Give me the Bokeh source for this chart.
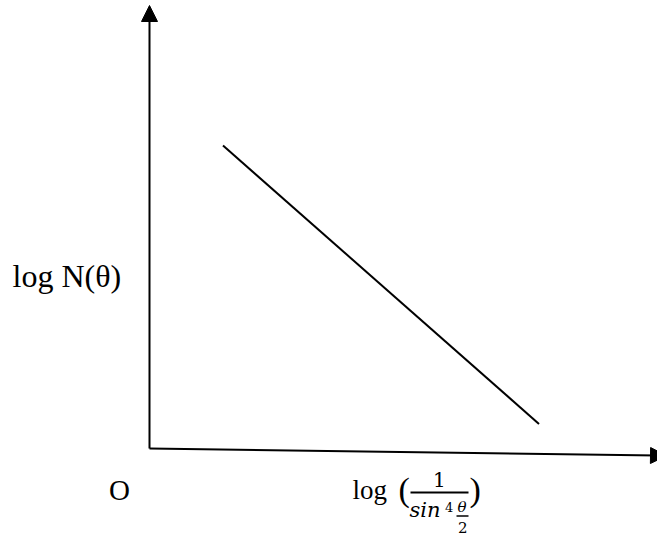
from bokeh.plotting import figure
from bokeh.models import Range1d, Arrow, NormalHead, Label, ColumnDataSource
from bokeh.embed import file_html
from bokeh.resources import INLINE

# ---- data (schematic units) ----
line_x = [1.47, 7.79]
line_y = [6.06, 0.49]
x_axis_end = [10.34, -0.145]
y_axis_end = [0.0, 8.86]
y_label = "log N(θ)"
x_label_log = "log"
x_label_num = "1"
x_label_den = "sin"
x_label_sup = "4"
x_label_theta = "θ"
x_label_two = "2"
origin_label = "O"

# pixel -> data helpers (origin of the axes at pixel (149, 448), 50 px per unit)
def X(px):
    return (px - 149) / 50.0

def Y(py):
    return (448 - py) / 50.0

W, H = 657, 535
p = figure(width=W, height=H, output_backend="svg", toolbar_location=None,
           x_range=Range1d(X(0), X(W)), y_range=Range1d(Y(H), Y(0)),
           x_axis_type=None, y_axis_type=None, min_border=0)
p.grid.visible = False
p.outline_line_color = None
p.background_fill_color = "white"
p.border_fill_color = "white"

# axes with arrow heads
p.add_layout(Arrow(end=NormalHead(size=16, fill_color="black", line_color="black", line_width=1),
                   x_start=0, y_start=0, x_end=x_axis_end[0], y_end=x_axis_end[1],
                   line_width=2, line_color="black"))
p.add_layout(Arrow(end=NormalHead(size=16, fill_color="black", line_color="black", line_width=1),
                   x_start=0, y_start=0, x_end=y_axis_end[0], y_end=y_axis_end[1],
                   line_width=2, line_color="black"))

# the straight line
src = ColumnDataSource(dict(x=line_x, y=line_y))
p.line("x", "y", source=src, line_width=2, line_color="black")

serif = "Liberation Serif"
math = "DejaVu Serif"
K = 0.4  # empirical baseline correction (em)

def lab(text, px, py, size, font, style="normal"):
    py = py - K * size
    p.add_layout(Label(x=X(px), y=Y(py), text=text, text_font=font,
                       text_font_size=f"{size}px", text_font_style=style,
                       text_baseline="alphabetic", text_align="left",
                       text_color="black"))

lab(y_label, 12, 288, 32, serif)
lab(origin_label, 108.5, 501, 29, serif)
lab(x_label_log, 352, 500.5, 27, serif)
lab("(", 398, 503, 34, serif)
lab(")", 469, 503, 34, serif)
lab(x_label_num, 432.5, 487, 20, math)
lab(x_label_den, 409, 518, 21, math, "italic")
lab(x_label_sup, 444.5, 512, 13, math)
lab(x_label_theta, 457, 512, 15, math, "italic")
lab(x_label_two, 457.5, 532.5, 15, math)

# fraction bars
p.segment(x0=[X(410), X(456)], y0=[Y(492), Y(515.5)], x1=[X(468), X(468)], y1=[Y(492), Y(515.5)],
          line_width=[2, 1.5], line_color="black")

open("out.html", "w").write(file_html(p, INLINE))
